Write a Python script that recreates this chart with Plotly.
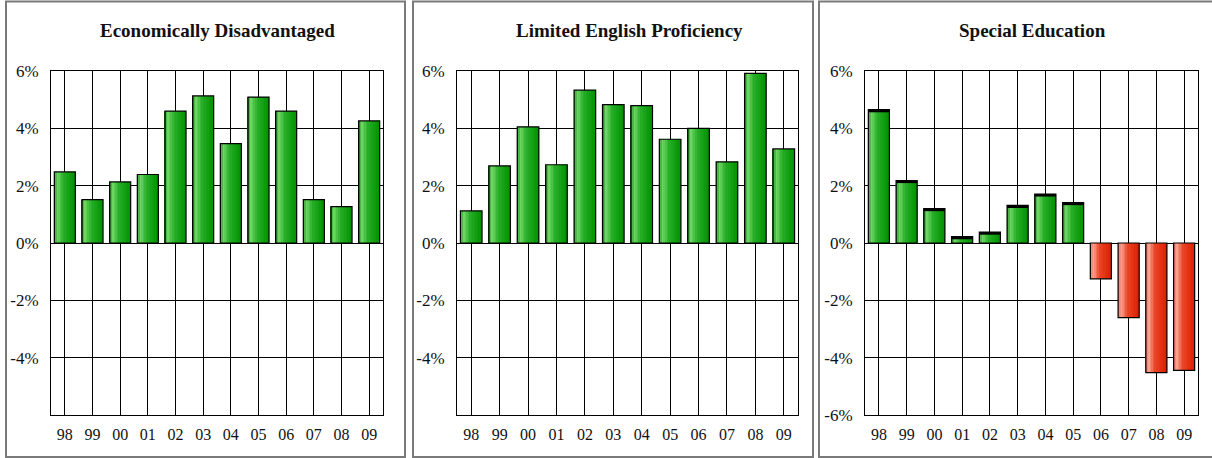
import plotly.graph_objects as go

years = ["98", "99", "00", "01", "02", "03", "04", "05", "06", "07", "08", "09"]
titles = ["Economically Disadvantaged", "Limited English Proficiency", "Special Education"]
econ_dis = [2.48, 1.51, 2.13, 2.39, 4.60, 5.13, 3.47, 5.09, 4.60, 1.51, 1.27, 4.26]
lep = [1.12, 2.69, 4.05, 2.73, 5.33, 4.83, 4.79, 3.62, 4.00, 2.83, 5.92, 3.28]
sped = [4.65, 2.18, 1.20, 0.22, 0.38, 1.31, 1.71, 1.41, -1.25, -2.60, -4.52, -4.44]
ytick_vals = [-6, -4, -2, 0, 2, 4, 6]
ytick_text_full = ["-6%", "-4%", "-2%", "0%", "2%", "4%", "6%"]
series = [econ_dis, lep, sped]

W, H = 1212, 458
# plot areas in pixels (left, right), shared top/bottom
plot_x = [(51, 383), (457, 798), (865, 1198)]
plot_top, plot_bot = 71, 415
frames = [(6, 405), (413, 813), (819, 1216)]
title_cx = [217, 629, 1032]


def px(x):
    return x / W


def py(y):
    return 1 - y / H


# gradient profiles (left -> right across the bar)
green_prof = [(0.0, (30, 130, 30)), (0.18, (110, 215, 100)), (0.45, (40, 175, 40)), (1.0, (0, 145, 0))]
red_prof = [(0.0, (225, 110, 95)), (0.18, (248, 160, 140)), (0.45, (235, 70, 40)), (1.0, (220, 30, 0))]


def interp(prof, t):
    for (t0, c0), (t1, c1) in zip(prof[:-1], prof[1:]):
        if t0 <= t <= t1:
            f = (t - t0) / (t1 - t0) if t1 > t0 else 0
            c = [round(a + (b - a) * f) for a, b in zip(c0, c1)]
            return "rgb(%d,%d,%d)" % tuple(c)
    c = prof[-1][1]
    return "rgb(%d,%d,%d)" % c


fig = go.Figure()
bw = 0.76
nstrip = 14
xs = list(range(len(years)))

for p, vals in enumerate(series):
    xa = "x" if p == 0 else "x%d" % (p + 1)
    ya = "y" if p == 0 else "y%d" % (p + 1)
    for s in range(nstrip):
        t = (s + 0.5) / nstrip
        cols = [interp(green_prof if v >= 0 else red_prof, t) for v in vals]
        fig.add_trace(go.Bar(
            x=xs, y=vals, xaxis=xa, yaxis=ya,
            width=bw / nstrip + 0.004, offset=-bw / 2 + s * bw / nstrip,
            marker=dict(color=cols, line=dict(width=0)),
            showlegend=False, hoverinfo="skip"))
    if p == 2:
        # dark top edge on positive bars (3-D look of the original)
        pos_x = [x for x, v in zip(xs, vals) if v > 0]
        pos_v = [v for v in vals if v > 0]
        fig.add_trace(go.Bar(
            x=pos_x, y=[-0.09] * len(pos_x), base=pos_v, xaxis=xa, yaxis=ya,
            width=bw, offset=-bw / 2, marker=dict(color="black", line=dict(width=0)),
            showlegend=False, hoverinfo="skip"))
    fig.add_trace(go.Bar(
        x=xs, y=vals, xaxis=xa, yaxis=ya,
        width=bw, offset=-bw / 2,
        marker=dict(color="rgba(0,0,0,0)", line=dict(color="black", width=1.2)),
        showlegend=False, hovertemplate="%{y:.2f}%<extra></extra>"))

layout = dict(
    width=W, height=H, margin=dict(l=0, r=0, t=0, b=0, autoexpand=False),
    paper_bgcolor="white", plot_bgcolor="white", barmode="overlay",
    font=dict(family="Liberation Serif", color="#111", size=16),
)
for p in range(3):
    xk = "xaxis" if p == 0 else "xaxis%d" % (p + 1)
    yk = "yaxis" if p == 0 else "yaxis%d" % (p + 1)
    xa = "x" if p == 0 else "x%d" % (p + 1)
    ya = "y" if p == 0 else "y%d" % (p + 1)
    ytext = list(ytick_text_full) if p == 2 else [""] + ytick_text_full[1:]
    layout[xk] = dict(
        domain=[px(plot_x[p][0]), px(plot_x[p][1])], anchor=ya, automargin=False,
        range=[-0.5, len(years) - 0.5], tickvals=xs, ticktext=years,
        showgrid=True, gridcolor="black", gridwidth=1, zeroline=False,
        showline=True, linecolor="black", linewidth=1, mirror=True,
        ticks="outside", ticklen=5, tickcolor="rgba(0,0,0,0)",
        tickfont=dict(family="Liberation Serif", size=16, color="#111"), fixedrange=True)
    layout[yk] = dict(
        domain=[py(plot_bot), py(plot_top)], anchor=xa, automargin=False,
        range=[-6, 6], tickvals=ytick_vals, ticktext=ytext,
        showgrid=True, gridcolor="black", gridwidth=1, zeroline=False,
        showline=True, linecolor="black", linewidth=1, mirror=True,
        ticks="outside", ticklen=8, tickcolor="rgba(0,0,0,0)",
        tickfont=dict(family="Liberation Serif", size=17, color="#111"), fixedrange=True)

fig.update_layout(**layout)

for p in range(3):
    fig.add_shape(type="rect", xref="paper", yref="paper",
                  x0=px(frames[p][0]), x1=px(frames[p][1]), y0=py(457), y1=py(1.5),
                  line=dict(color="#7a7a7a", width=2), fillcolor="rgba(0,0,0,0)", layer="below")
    fig.add_annotation(text="<b>%s</b>" % titles[p], xref="paper", yref="paper",
                       x=px(title_cx[p]), y=py(30), xanchor="center", yanchor="middle",
                       showarrow=False, font=dict(family="Liberation Serif", size=19, color="#111"))

fig.write_html("out.html", config={"displayModeBar": False},
               post_script="document.body.style.margin='0';document.body.style.overflow='hidden';")
